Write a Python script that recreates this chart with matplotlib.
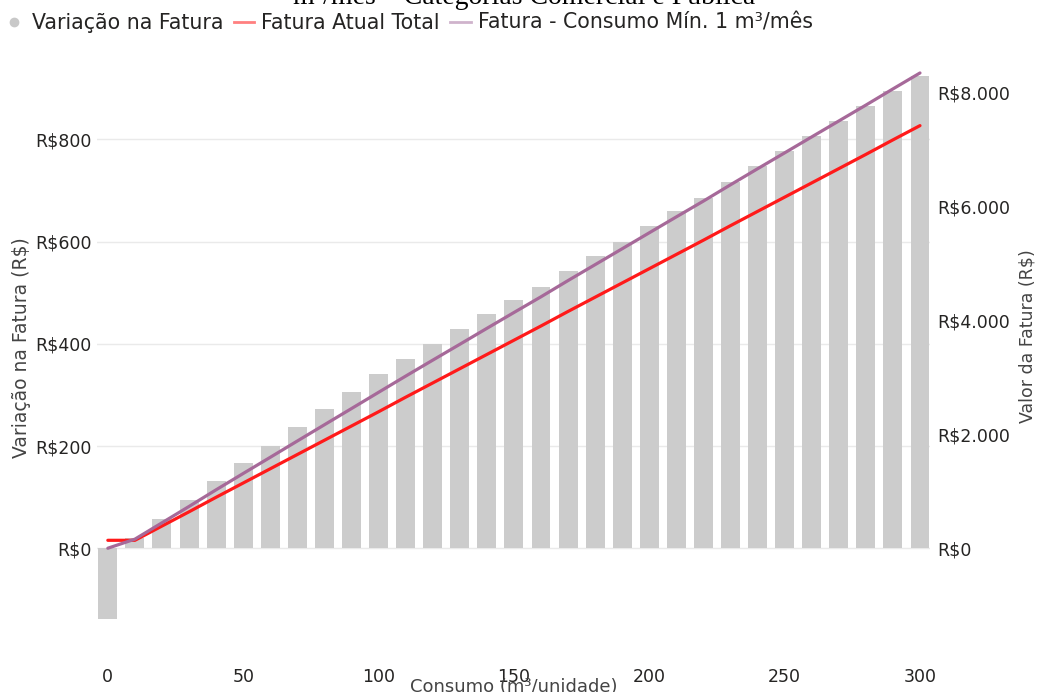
import matplotlib
matplotlib.use("Agg")
import matplotlib.pyplot as plt
from matplotlib.lines import Line2D
from matplotlib.ticker import FuncFormatter

# consumo (m3/unidade)
consumo = [0, 10, 20, 30, 40, 50, 60, 70, 80, 90, 100, 110, 120, 130, 140, 150,
           160, 170, 180, 190, 200, 210, 220, 230, 240, 250, 260, 270, 280, 290, 300]

# variacao na fatura (eixo esquerdo)
variacao = [-139, 20, 57, 94, 131, 167, 201, 237, 272, 306, 341, 370, 400, 428, 458, 486,
            512, 542, 571, 600, 630, 659, 686, 717, 748, 777, 807, 836, 865, 894, 924]

# fatura atual total (eixo direito)
fatura_atual = [140, 140, 390, 640, 895, 1145, 1395, 1645, 1895, 2145, 2395, 2650, 2900,
                3150, 3400, 3650, 3900, 4155, 4405, 4655, 4905, 5155, 5405, 5660, 5910,
                6160, 6410, 6660, 6910, 7165, 7415]

# fatura com consumo minimo de 1 m3/mes (eixo direito)
fatura_min = [1, 160, 447, 734, 1026, 1312, 1596, 1882, 2167, 2451, 2736, 3020, 3300,
              3578, 3858, 4136, 4412, 4697, 4976, 5255, 5535, 5814, 6091, 6377, 6658,
              6937, 7217, 7496, 7775, 8059, 8339]

ticks_esq = [0, 200, 400, 600, 800]
ticks_dir = [0, 2000, 4000, 6000, 8000]
ticks_x = [0, 50, 100, 150, 200, 250, 300]

GRAY = "#CCCCCC"
RED = "#FF1A1A"
PURPLE = "#A66999"
TXT = "#252423"

plt.rcParams["font.family"] = ["DejaVu Sans"]

fig = plt.figure(figsize=(10.38, 6.92), dpi=100)
ax = fig.add_axes([97 / 1038, 1 - 625 / 692, 833 / 1038, 555 / 692])
ax2 = ax.twinx()

ax.bar(consumo, variacao, width=7, color=GRAY, zorder=2)
ax2.plot(consumo, fatura_atual, color=RED, lw=2.3, solid_capstyle="round")
ax2.plot(consumo, fatura_min, color=PURPLE, lw=2.3, solid_capstyle="round")

ax.set_xlim(-4, 303.7)
ax.set_ylim(-150, 935.5)
ax2.set_ylim(-1346, 8391)

ax.set_xticks(ticks_x)
ax.set_yticks(ticks_esq)
ax2.set_yticks(ticks_dir)


def brl(v, pos):
    return "R$" + f"{int(v):,}".replace(",", ".")


ax.yaxis.set_major_formatter(FuncFormatter(brl))
ax2.yaxis.set_major_formatter(FuncFormatter(brl))

ax.grid(axis="y", color="#EAEAEA", lw=1, zorder=0)
ax.set_axisbelow(True)
for a in (ax, ax2):
    for s in a.spines.values():
        s.set_visible(False)
ax.tick_params(axis="both", length=0, colors=TXT, labelsize=12.5)
ax.tick_params(axis="x", pad=31)
ax.tick_params(axis="y", pad=4)
ax2.tick_params(axis="y", length=0, colors=TXT, labelsize=12.5, pad=5)

ax.set_ylabel("Variação na Fatura (R$)", fontsize=13.5, color="#444444")
ax.yaxis.set_label_coords(-0.079, 0.5)
ax2.set_ylabel("Valor da Fatura (R$)", fontsize=12.5, color="#444444")
ax2.yaxis.set_label_coords(1.106, 0.52)
ax.set_xlabel("Consumo (m³/unidade)", fontsize=13, color="#444444")
ax.xaxis.set_label_coords(0.5006, -0.096)

# titulo cortado no topo
fig.text(0.505, 1 - 4 / 692, "m³/mês – Categorias Comercial e Pública",
         family="Liberation Serif", fontsize=20, ha="center", va="baseline")

handles = [
    Line2D([], [], ls="none", marker="o", ms=6, color="#C8C8C8"),
    Line2D([], [], color="#FF8080", lw=2),
    Line2D([], [], color="#CFB3CC", lw=2),
]
labels = ["Variação na Fatura", "Fatura Atual Total", "Fatura - Consumo Mín. 1 m³/mês"]
fig.legend(handles, labels, loc="center left", bbox_to_anchor=(0.0, 1 - 23 / 692),
           ncol=3, frameon=False, fontsize=14.8, handlelength=1.0, handletextpad=0.35,
           columnspacing=0.5, borderaxespad=0, borderpad=0.2, labelcolor=TXT)

fig.savefig("out.png", dpi=100)
